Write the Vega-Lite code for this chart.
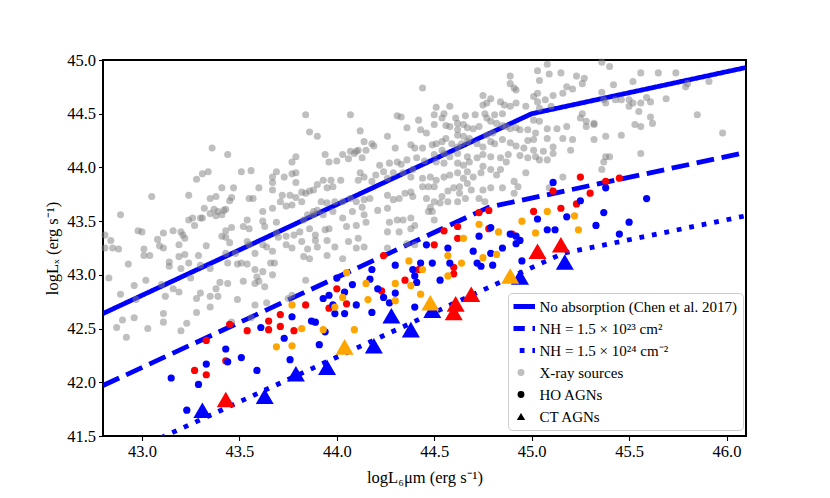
{
 "$schema": "https://vega.github.io/schema/vega-lite/v6.json",
 "width": 643,
 "height": 376,
 "autosize": {"type": "none"},
 "padding": {"left": 103, "top": 60, "right": 84, "bottom": 62},
 "background": "white",
 "config": {
  "view": {"stroke": "black", "strokeWidth": 2},
  "font": "Liberation Serif",
  "axis": {"domain": false, "grid": false, "tickColor": "black", "tickSize": 4.5, "tickWidth": 1.1, "labelFont": "Liberation Serif", "labelFontSize": 16.5, "labelColor": "black", "labelPadding": 3, "labelFlush": false, "titleFont": "Liberation Serif", "titleFontSize": 16.5, "titleFontWeight": "normal", "titleColor": "black"}
 },
 "datasets": {
  "lines": [
   {"model": "No absorption (Chen et al. 2017)", "x": 42.8, "y": 42.64},
   {"model": "No absorption (Chen et al. 2017)", "x": 45.0, "y": 44.5},
   {"model": "No absorption (Chen et al. 2017)", "x": 46.1, "y": 44.93},
   {"model": "NH = 1.5 × 10²³ cm²", "x": 42.8, "y": 41.97},
   {"model": "NH = 1.5 × 10²³ cm²", "x": 44.78, "y": 43.63},
   {"model": "NH = 1.5 × 10²³ cm²", "x": 46.1, "y": 44.14},
   {"model": "NH = 1.5 × 10²⁴ cm⁻²", "x": 42.8, "y": 41.235},
   {"model": "NH = 1.5 × 10²⁴ cm⁻²", "x": 45.16, "y": 43.2},
   {"model": "NH = 1.5 × 10²⁴ cm⁻²", "x": 46.1, "y": 43.55}
  ],
  "xray": [
   {"x":43.84,"y":44.49},{"x":43.86,"y":44.33},{"x":43.90,"y":44.29},{"x":43.36,"y":44.18},{"x":43.44,"y":44.12},{"x":43.79,"y":44.10},{"x":43.77,"y":44.05},{"x":43.34,"y":43.96},{"x":43.31,"y":43.94},{"x":43.28,"y":43.89},{"x":43.51,"y":43.96},{"x":43.56,"y":43.97},{"x":43.69,"y":43.96},{"x":43.67,"y":43.91},{"x":43.67,"y":43.86},{"x":43.73,"y":43.91},{"x":43.77,"y":43.94},{"x":43.79,"y":43.95},{"x":43.79,"y":43.86},{"x":43.05,"y":43.73},{"x":43.24,"y":43.74},{"x":43.41,"y":43.81},{"x":43.47,"y":43.81},{"x":43.60,"y":43.81},{"x":43.67,"y":43.79},{"x":43.38,"y":43.73},{"x":43.35,"y":43.71},{"x":43.46,"y":43.72},{"x":43.55,"y":43.71},{"x":43.57,"y":43.71},{"x":43.72,"y":43.74},{"x":43.76,"y":43.74},{"x":43.79,"y":43.72},{"x":43.82,"y":43.77},{"x":43.84,"y":43.76},{"x":43.86,"y":43.78},{"x":43.88,"y":43.79},{"x":43.90,"y":43.84},{"x":43.71,"y":43.68},{"x":43.74,"y":43.64},{"x":43.77,"y":43.65},{"x":43.82,"y":43.68},{"x":43.32,"y":43.62},{"x":43.37,"y":43.61},{"x":43.39,"y":43.59},{"x":43.42,"y":43.60},{"x":43.43,"y":43.61},{"x":43.45,"y":43.69},{"x":43.62,"y":43.59},{"x":43.67,"y":43.62},{"x":42.89,"y":43.56},{"x":43.24,"y":43.51},{"x":43.26,"y":43.53},{"x":43.27,"y":43.46},{"x":43.30,"y":43.53},{"x":43.31,"y":43.53},{"x":43.35,"y":43.57},{"x":43.38,"y":43.55},{"x":43.41,"y":43.56},{"x":43.54,"y":43.51},{"x":43.52,"y":43.45},{"x":43.55,"y":43.43},{"x":43.62,"y":43.50},{"x":43.63,"y":43.45},{"x":43.69,"y":43.49},{"x":43.83,"y":43.51},{"x":43.85,"y":43.56},{"x":43.88,"y":43.59},{"x":43.90,"y":43.60},{"x":42.98,"y":43.41},{"x":43.00,"y":43.40},{"x":43.11,"y":43.39},{"x":43.16,"y":43.41},{"x":43.20,"y":43.40},{"x":43.21,"y":43.37},{"x":43.22,"y":43.34},{"x":43.43,"y":43.41},{"x":43.46,"y":43.44},{"x":43.41,"y":43.36},{"x":43.43,"y":43.35},{"x":43.69,"y":43.39},{"x":43.70,"y":43.35},{"x":43.74,"y":43.36},{"x":43.78,"y":43.37},{"x":43.81,"y":43.40},{"x":43.86,"y":43.43},{"x":43.89,"y":43.37},{"x":42.84,"y":43.32},{"x":42.81,"y":43.37},{"x":43.08,"y":43.33},{"x":43.09,"y":43.27},{"x":43.11,"y":43.25},{"x":43.19,"y":43.28},{"x":43.33,"y":43.27},{"x":43.45,"y":43.30},{"x":43.54,"y":43.31},{"x":43.55,"y":43.28},{"x":43.62,"y":43.28},{"x":43.64,"y":43.26},{"x":43.74,"y":43.28},{"x":43.77,"y":43.25},{"x":43.82,"y":43.31},{"x":43.85,"y":43.24},{"x":43.90,"y":43.26},{"x":42.85,"y":43.25},{"x":42.88,"y":43.24},{"x":43.01,"y":43.24},{"x":42.81,"y":43.25},{"x":43.67,"y":43.22},{"x":43.58,"y":43.20},{"x":43.22,"y":43.19},
   {"x":43.01,"y":43.18},{"x":43.04,"y":43.18},{"x":43.19,"y":43.17},{"x":43.29,"y":43.18},{"x":43.43,"y":43.20},{"x":43.48,"y":43.20},{"x":43.83,"y":43.17},{"x":43.86,"y":43.15},{"x":43.95,"y":43.18},{"x":44.03,"y":43.15},{"x":42.93,"y":43.10},{"x":43.14,"y":43.12},{"x":43.14,"y":43.08},{"x":43.20,"y":43.06},{"x":43.24,"y":43.11},{"x":43.30,"y":43.09},{"x":43.35,"y":43.06},{"x":43.44,"y":43.11},{"x":43.49,"y":43.10},{"x":43.51,"y":43.11},{"x":43.54,"y":43.10},{"x":43.58,"y":43.05},{"x":43.62,"y":43.03},{"x":43.66,"y":43.11},{"x":43.68,"y":43.11},{"x":43.60,"y":42.94},{"x":43.59,"y":42.98},{"x":43.58,"y":42.92},{"x":43.67,"y":43.00},{"x":42.83,"y":42.97},{"x":43.02,"y":42.95},{"x":42.96,"y":42.90},{"x":43.10,"y":42.91},{"x":43.16,"y":42.87},{"x":43.19,"y":42.84},{"x":43.25,"y":42.97},{"x":43.40,"y":42.93},{"x":43.44,"y":42.92},{"x":43.52,"y":42.94},{"x":43.38,"y":42.87},{"x":43.35,"y":42.80},{"x":43.49,"y":42.77},{"x":43.77,"y":42.81},{"x":43.75,"y":42.78},{"x":43.84,"y":42.95},{"x":43.63,"y":42.89},{"x":42.89,"y":42.82},{"x":42.97,"y":42.77},{"x":43.12,"y":42.80},{"x":43.30,"y":42.83},{"x":43.28,"y":42.78},{"x":43.39,"y":42.80},{"x":43.35,"y":42.70},{"x":43.58,"y":42.72},{"x":43.64,"y":42.74},{"x":42.90,"y":42.58},{"x":42.96,"y":42.60},{"x":43.11,"y":42.64},{"x":43.11,"y":42.56},{"x":43.28,"y":42.65},{"x":43.23,"y":42.55},{"x":43.20,"y":42.48},{"x":43.03,"y":42.50},{"x":42.87,"y":42.51},{"x":42.92,"y":42.42},{"x":43.46,"y":42.56},{"x":43.56,"y":42.60},
   {"x":44.89,"y":44.85},{"x":44.89,"y":44.78},{"x":44.91,"y":44.74},{"x":44.92,"y":44.72},{"x":44.44,"y":44.74},{"x":44.75,"y":44.67},{"x":44.79,"y":44.64},{"x":44.77,"y":44.60},{"x":44.75,"y":44.58},{"x":44.84,"y":44.61},{"x":44.86,"y":44.58},{"x":44.89,"y":44.57},{"x":44.92,"y":44.60},{"x":44.97,"y":44.57},{"x":44.51,"y":44.56},{"x":44.58,"y":44.57},{"x":44.55,"y":44.50},{"x":44.54,"y":44.46},{"x":44.50,"y":44.49},{"x":44.07,"y":44.49},{"x":44.31,"y":44.48},{"x":44.33,"y":44.47},{"x":44.42,"y":44.44},{"x":44.61,"y":44.46},{"x":44.66,"y":44.48},{"x":44.71,"y":44.49},{"x":44.76,"y":44.50},{"x":44.81,"y":44.49},{"x":44.85,"y":44.50},{"x":44.56,"y":44.39},{"x":44.58,"y":44.38},{"x":44.62,"y":44.41},{"x":44.65,"y":44.40},{"x":44.67,"y":44.37},{"x":44.70,"y":44.36},{"x":44.73,"y":44.38},{"x":44.77,"y":44.46},{"x":44.79,"y":44.43},{"x":44.82,"y":44.41},{"x":44.85,"y":44.39},{"x":44.87,"y":44.38},{"x":44.89,"y":44.36},{"x":44.92,"y":44.37},{"x":44.94,"y":44.35},{"x":44.12,"y":44.34},{"x":44.26,"y":44.29},{"x":44.36,"y":44.37},{"x":44.43,"y":44.35},{"x":44.46,"y":44.32},{"x":44.50,"y":44.40},{"x":44.14,"y":44.24},{"x":44.18,"y":44.22},{"x":44.19,"y":44.20},{"x":44.15,"y":44.16},{"x":44.11,"y":44.16},{"x":44.09,"y":44.13},{"x":44.30,"y":44.18},{"x":44.38,"y":44.21},{"x":44.40,"y":44.18},{"x":44.44,"y":44.18},{"x":44.49,"y":44.21},{"x":44.51,"y":44.22},{"x":44.54,"y":44.24},{"x":44.56,"y":44.27},{"x":44.59,"y":44.22},{"x":44.62,"y":44.19},{"x":44.64,"y":44.22},{"x":44.67,"y":44.24},{"x":44.68,"y":44.27},{"x":44.72,"y":44.22},{"x":44.75,"y":44.19},{"x":44.79,"y":44.24},{"x":44.81,"y":44.22},{"x":44.85,"y":44.26},{"x":44.89,"y":44.23},{"x":44.92,"y":44.20},{"x":44.96,"y":44.18},{"x":44.98,"y":44.25},{"x":43.94,"y":44.12},{"x":43.96,"y":44.05},{"x":44.00,"y":44.06},{"x":44.03,"y":44.12},{"x":44.07,"y":44.15},{"x":44.10,"y":44.15},{"x":44.06,"y":44.08},{"x":44.22,"y":44.02},{"x":44.27,"y":44.04},{"x":44.31,"y":44.05},{"x":44.33,"y":44.03},{"x":44.36,"y":44.07},{"x":44.41,"y":44.09},{"x":44.45,"y":44.06},{"x":44.50,"y":44.12},{"x":44.55,"y":44.13},{"x":44.58,"y":44.10},{"x":44.62,"y":44.04},{"x":44.65,"y":44.02},{"x":44.68,"y":44.05},{"x":44.72,"y":44.09},{"x":44.75,"y":44.12},{"x":44.79,"y":44.10},{"x":44.84,"y":44.09},{"x":44.88,"y":44.12},{"x":44.94,"y":44.11},{"x":44.87,"y":44.05},{"x":43.93,"y":43.88},{"x":43.97,"y":43.88},{"x":43.98,"y":43.82},{"x":43.95,"y":43.81},{"x":44.02,"y":43.88},{"x":44.12,"y":43.95},{"x":44.11,"y":43.88},{"x":44.14,"y":43.91},{"x":44.18,"y":43.87},{"x":44.20,"y":43.93},{"x":44.24,"y":43.96},{"x":44.26,"y":43.90},{"x":44.29,"y":43.95},{"x":44.34,"y":43.95},{"x":44.39,"y":43.98},{"x":44.44,"y":43.90},{"x":44.48,"y":43.91},{"x":44.51,"y":43.88},{"x":44.55,"y":43.91},{"x":44.58,"y":43.93},{"x":44.62,"y":43.95},{"x":44.65,"y":43.90},{"x":44.67,"y":43.85},{"x":44.70,"y":43.91},{"x":44.74,"y":43.95},{"x":44.79,"y":43.98},{"x":44.82,"y":43.93},{"x":44.75,"y":44.01},{"x":44.91,"y":43.87},{"x":44.93,"y":43.82},{"x":44.85,"y":43.81},{"x":44.91,"y":43.76},{"x":43.92,"y":43.68},{"x":43.95,"y":43.67},{"x":43.99,"y":43.68},{"x":44.03,"y":43.68},{"x":44.07,"y":43.71},{"x":44.10,"y":43.68},{"x":44.13,"y":43.63},{"x":44.17,"y":43.71},{"x":44.21,"y":43.60},{"x":44.29,"y":43.70},{"x":44.35,"y":43.76},{"x":44.38,"y":43.77},{"x":44.39,"y":43.73},{"x":44.46,"y":43.71},{"x":44.50,"y":43.68},{"x":44.48,"y":43.63},{"x":44.54,"y":43.73},{"x":44.57,"y":43.78},{"x":44.60,"y":43.81},{"x":44.63,"y":43.76},{"x":44.66,"y":43.71},{"x":44.57,"y":43.68},{"x":44.62,"y":43.68},{"x":43.88,"y":43.56},{"x":43.93,"y":43.56},{"x":43.98,"y":43.59},{"x":44.03,"y":43.53},{"x":44.08,"y":43.59},{"x":44.14,"y":43.56},{"x":44.15,"y":43.49},{"x":44.10,"y":43.46},{"x":44.05,"y":43.45},{"x":43.96,"y":43.43},{"x":43.94,"y":43.42},{"x":44.26,"y":43.62},{"x":44.27,"y":43.49},{"x":44.31,"y":43.51},{"x":44.34,"y":43.51},{"x":44.38,"y":43.53},{"x":44.40,"y":43.46},{"x":44.38,"y":43.43},{"x":44.32,"y":43.40},{"x":44.26,"y":43.40},{"x":44.47,"y":43.59},{"x":44.49,"y":43.59},{"x":44.50,"y":43.51},{"x":43.89,"y":43.32},{"x":43.95,"y":43.32},{"x":43.99,"y":43.26},{"x":44.06,"y":43.31},{"x":44.11,"y":43.34},{"x":44.10,"y":43.25},{"x":44.14,"y":43.26},{"x":44.26,"y":43.25},{"x":44.40,"y":43.28},{"x":44.36,"y":43.29},{"x":44.73,"y":43.71},{"x":44.76,"y":43.68},
   {"x":44.62,"y":44.35},{"x":44.98,"y":44.35},{"x":45.01,"y":44.26},{"x":44.62,"y":44.30},{"x":44.65,"y":44.29},{"x":44.77,"y":44.30},{"x":44.80,"y":44.32},{"x":45.01,"y":44.16},{"x":44.54,"y":44.16},{"x":44.13,"y":44.09},{"x":44.62,"y":44.13},{"x":44.67,"y":44.10},{"x":44.98,"y":44.09},{"x":44.51,"y":44.05},{"x":44.55,"y":44.04},{"x":44.38,"y":43.91},{"x":44.67,"y":43.96},{"x":44.84,"y":43.98},{"x":44.97,"y":43.95},{"x":44.14,"y":43.70},{"x":44.26,"y":43.74},{"x":44.32,"y":43.71},{"x":44.44,"y":43.82},{"x":44.47,"y":43.82},{"x":44.50,"y":43.82},{"x":44.63,"y":43.82},{"x":44.69,"y":43.79},{"x":44.75,"y":43.79},{"x":44.79,"y":43.81},{"x":44.53,"y":43.67},
   {"x":45.08,"y":44.96},{"x":45.36,"y":44.98},{"x":45.40,"y":44.94},{"x":45.03,"y":44.90},{"x":45.09,"y":44.87},{"x":45.15,"y":44.88},{"x":45.23,"y":44.85},{"x":45.27,"y":44.83},{"x":45.26,"y":44.78},{"x":45.42,"y":44.77},{"x":45.36,"y":44.70},{"x":45.52,"y":44.80},{"x":45.56,"y":44.88},{"x":45.65,"y":44.88},{"x":45.74,"y":44.88},{"x":45.80,"y":44.78},{"x":45.79,"y":44.75},{"x":45.91,"y":44.80},{"x":45.18,"y":44.75},{"x":45.21,"y":44.73},{"x":45.16,"y":44.69},{"x":45.11,"y":44.67},{"x":45.07,"y":44.63},{"x":45.10,"y":44.57},{"x":45.03,"y":44.69},{"x":45.04,"y":44.81},{"x":45.01,"y":44.66},{"x":45.03,"y":44.61},{"x":45.04,"y":44.55},{"x":45.37,"y":44.63},{"x":45.38,"y":44.60},{"x":45.43,"y":44.63},{"x":45.46,"y":44.63},{"x":45.50,"y":44.63},{"x":45.52,"y":44.60},{"x":45.56,"y":44.60},{"x":45.59,"y":44.65},{"x":45.61,"y":44.61},{"x":45.69,"y":44.64},{"x":45.50,"y":44.57},{"x":45.55,"y":44.52},{"x":45.61,"y":44.47},{"x":45.62,"y":44.41},{"x":45.53,"y":44.40},{"x":45.56,"y":44.38},{"x":45.46,"y":44.30},{"x":45.38,"y":44.29},{"x":45.32,"y":44.26},{"x":45.28,"y":44.38},{"x":45.26,"y":44.50},{"x":45.25,"y":44.46},{"x":45.28,"y":44.43},{"x":45.32,"y":44.40},{"x":45.32,"y":44.41},{"x":45.18,"y":44.38},{"x":45.13,"y":44.36},{"x":45.08,"y":44.36},{"x":45.04,"y":44.43},{"x":45.01,"y":44.44},{"x":45.02,"y":44.32},{"x":45.08,"y":44.27},{"x":45.11,"y":44.19},{"x":45.16,"y":44.27},{"x":45.21,"y":44.26},{"x":45.20,"y":44.16},{"x":45.11,"y":44.13},{"x":45.06,"y":44.15},{"x":45.08,"y":44.07},{"x":45.04,"y":44.07},{"x":45.02,"y":44.10},{"x":45.38,"y":44.10},{"x":45.37,"y":44.05},{"x":45.36,"y":43.98},{"x":45.40,"y":44.10},{"x":45.56,"y":44.13},{"x":45.85,"y":44.49},{"x":45.98,"y":44.32},{"x":45.16,"y":43.91},{"x":45.09,"y":43.81}
  ],
  "ho": [
   {"x":43.27,"y":42.11,"cls":"B"},{"x":43.33,"y":42.07,"cls":"B"},{"x":43.33,"y":42.39,"cls":"B"},{"x":43.45,"y":42.54,"cls":"B"},{"x":43.43,"y":42.20,"cls":"B"},{"x":43.54,"y":42.48,"cls":"B"},{"x":43.65,"y":42.57,"cls":"B"},{"x":43.65,"y":42.49,"cls":"B"},{"x":43.71,"y":42.63,"cls":"B"},{"x":43.71,"y":42.52,"cls":"B"},{"x":43.78,"y":42.48,"cls":"B"},{"x":43.84,"y":42.72,"cls":"B"},{"x":44.00,"y":42.87,"cls":"B"},{"x":43.96,"y":42.69,"cls":"B"},{"x":44.05,"y":42.73,"cls":"B"},{"x":45.11,"y":43.78,"cls":"B"},{"x":45.23,"y":43.66,"cls":"B"},{"x":44.73,"y":43.58,"cls":"B"},{"x":44.78,"y":43.60,"cls":"B"},{"x":45.01,"y":43.59,"cls":"B"},{"x":45.15,"y":43.62,"cls":"B"},{"x":44.55,"y":43.41,"cls":"B"},{"x":44.62,"y":43.45,"cls":"B"},{"x":44.78,"y":43.43,"cls":"B"},{"x":44.90,"y":43.38,"cls":"B"},{"x":44.62,"y":43.34,"cls":"B"},{"x":44.50,"y":43.28,"cls":"B"},{"x":44.24,"y":43.18,"cls":"B"},{"x":44.42,"y":43.05,"cls":"B"},{"x":44.60,"y":43.07,"cls":"B"},{"x":44.60,"y":43.01,"cls":"B"},{"x":44.23,"y":42.85,"cls":"B"},{"x":44.35,"y":42.95,"cls":"B"},{"x":45.25,"y":43.91,"cls":"B"},{"x":45.38,"y":43.87,"cls":"B"},{"x":45.45,"y":43.90,"cls":"B"},{"x":45.30,"y":43.76,"cls":"B"},
   {"x":43.15,"y":42.04,"cls":"A"},{"x":43.29,"y":41.98,"cls":"A"},{"x":43.33,"y":42.17,"cls":"A"},{"x":43.43,"y":42.31,"cls":"A"},{"x":43.44,"y":42.19,"cls":"A"},{"x":43.51,"y":42.23,"cls":"A"},{"x":43.59,"y":42.11,"cls":"A"},{"x":43.61,"y":42.51,"cls":"A"},{"x":43.73,"y":42.41,"cls":"A"},{"x":43.76,"y":42.21,"cls":"A"},{"x":43.77,"y":42.61,"cls":"A"},{"x":43.87,"y":42.57,"cls":"A"},{"x":43.89,"y":42.56,"cls":"A"},{"x":43.91,"y":42.35,"cls":"A"},{"x":43.94,"y":42.47,"cls":"A"},{"x":43.93,"y":42.78,"cls":"A"},{"x":43.96,"y":42.81,"cls":"A"},{"x":44.04,"y":42.84,"cls":"A"},{"x":43.99,"y":42.64,"cls":"A"},{"x":44.04,"y":42.64,"cls":"A"},{"x":44.08,"y":42.91,"cls":"A"},{"x":43.23,"y":41.74,"cls":"A"},{"x":45.11,"y":43.86,"cls":"A"},{"x":45.03,"y":43.52,"cls":"A"},{"x":45.18,"y":43.54,"cls":"A"},{"x":44.79,"y":43.44,"cls":"A"},{"x":44.89,"y":43.38,"cls":"A"},{"x":44.94,"y":43.32,"cls":"A"},{"x":45.08,"y":43.42,"cls":"A"},{"x":45.12,"y":43.42,"cls":"A"},{"x":45.33,"y":43.46,"cls":"A"},{"x":44.73,"y":43.36,"cls":"A"},{"x":44.46,"y":43.28,"cls":"A"},{"x":44.57,"y":43.25,"cls":"A"},{"x":44.43,"y":43.11,"cls":"A"},{"x":44.70,"y":43.22,"cls":"A"},{"x":44.79,"y":43.20,"cls":"A"},{"x":44.85,"y":43.25,"cls":"A"},{"x":44.95,"y":43.13,"cls":"A"},{"x":44.30,"y":43.09,"cls":"A"},{"x":44.39,"y":43.05,"cls":"A"},{"x":44.49,"y":43.11,"cls":"A"},{"x":44.58,"y":43.11,"cls":"A"},{"x":44.72,"y":43.11,"cls":"A"},{"x":44.74,"y":43.08,"cls":"A"},{"x":44.80,"y":43.09,"cls":"A"},{"x":44.18,"y":43.05,"cls":"A"},{"x":44.00,"y":42.97,"cls":"A"},{"x":44.17,"y":42.96,"cls":"A"},{"x":44.40,"y":42.99,"cls":"A"},{"x":44.41,"y":42.93,"cls":"A"},{"x":44.53,"y":42.95,"cls":"A"},{"x":44.21,"y":42.87,"cls":"A"},{"x":44.30,"y":42.83,"cls":"A"},{"x":44.24,"y":42.79,"cls":"A"},{"x":44.10,"y":42.72,"cls":"A"},{"x":43.98,"y":42.72,"cls":"A"},{"x":44.18,"y":42.65,"cls":"A"},{"x":44.40,"y":42.70,"cls":"A"},{"x":44.27,"y":42.74,"cls":"A"},{"x":45.38,"y":43.81,"cls":"A"},{"x":45.25,"y":43.69,"cls":"A"},{"x":45.59,"y":43.71,"cls":"A"},{"x":45.37,"y":43.58,"cls":"A"},{"x":45.50,"y":43.49,"cls":"A"},{"x":45.45,"y":43.38,"cls":"A"},{"x":44.92,"y":43.29,"cls":"A"},{"x":44.92,"y":43.36,"cls":"A"},
   {"x":43.77,"y":42.34,"cls":"C"},{"x":43.77,"y":42.72,"cls":"C"},{"x":43.82,"y":42.50,"cls":"C"},{"x":43.93,"y":42.49,"cls":"C"},{"x":44.05,"y":43.02,"cls":"C"},{"x":43.99,"y":42.70,"cls":"C"},{"x":43.69,"y":42.33,"cls":"C"},{"x":45.08,"y":43.59,"cls":"C"},{"x":44.95,"y":43.50,"cls":"C"},{"x":45.22,"y":43.55,"cls":"C"},{"x":44.73,"y":43.47,"cls":"C"},{"x":44.83,"y":43.40,"cls":"C"},{"x":45.02,"y":43.39,"cls":"C"},{"x":45.24,"y":43.42,"cls":"C"},{"x":44.65,"y":43.34,"cls":"C"},{"x":44.57,"y":43.18,"cls":"C"},{"x":44.37,"y":43.13,"cls":"C"},{"x":44.75,"y":43.16,"cls":"C"},{"x":44.82,"y":43.19,"cls":"C"},{"x":44.44,"y":43.05,"cls":"C"},{"x":44.64,"y":43.11,"cls":"C"},{"x":44.15,"y":42.92,"cls":"C"},{"x":44.38,"y":42.90,"cls":"C"},{"x":44.57,"y":42.99,"cls":"C"},{"x":44.30,"y":42.92,"cls":"C"},{"x":44.43,"y":42.82,"cls":"C"},{"x":44.16,"y":42.77,"cls":"C"},{"x":44.03,"y":42.79,"cls":"C"},{"x":44.09,"y":42.49,"cls":"C"},{"x":44.30,"y":42.76,"cls":"C"}
  ],
  "ct": [
   {"x":43.31,"y":41.74,"cls":"A"},{"x":43.63,"y":41.87,"cls":"A"},{"x":43.79,"y":42.08,"cls":"A"},{"x":43.95,"y":42.14,"cls":"A"},{"x":44.19,"y":42.34,"cls":"A"},{"x":44.28,"y":42.62,"cls":"A"},{"x":44.38,"y":42.49,"cls":"A"},{"x":44.49,"y":42.67,"cls":"A"},{"x":44.94,"y":42.98,"cls":"A"},{"x":45.17,"y":43.12,"cls":"A"},
   {"x":44.04,"y":42.33,"cls":"C"},{"x":44.48,"y":42.74,"cls":"C"},{"x":44.89,"y":42.99,"cls":"C"},
   {"x":43.43,"y":41.84,"cls":"B"},{"x":44.60,"y":42.65,"cls":"B"},{"x":44.61,"y":42.73,"cls":"B"},{"x":44.69,"y":42.82,"cls":"B"},{"x":45.03,"y":43.22,"cls":"B"},{"x":45.15,"y":43.28,"cls":"B"}
  ]
 },
 "layer": [
  {
   "data": {"name": "lines"},
   "mark": {"type": "line", "clip": true, "strokeWidth": 4.8},
   "encoding": {
    "x": {"field": "x", "type": "quantitative", "scale": {"domain": [42.8, 46.1], "nice": false, "zero": false}, "axis": {"values": [43, 43.5, 44, 44.5, 45, 45.5, 46], "format": ".1f", "title": "logL₆μm (erg s⁻¹)", "titlePadding": 9}},
    "y": {"field": "y", "type": "quantitative", "scale": {"domain": [41.5, 45], "nice": false, "zero": false}, "axis": {"values": [41.5, 42, 42.5, 43, 43.5, 44, 44.5, 45], "format": ".1f", "title": "logLₓ (erg s⁻¹)", "titlePadding": 6}},
    "color": {
     "field": "model", "type": "nominal",
     "scale": {"domain": ["No absorption (Chen et al. 2017)", "NH = 1.5 × 10²³ cm²", "NH = 1.5 × 10²⁴ cm⁻²", "X-ray sources", "HO AGNs", "CT AGNs"], "range": ["#0000ff", "#0000ff", "#0000ff", "#808080", "#000000", "#000000"]},
     "legend": {
      "title": null, "orient": "none", "legendX": 405, "legendY": 233,
      "padding": 5.5, "fillColor": "rgba(255,255,255,0.85)", "strokeColor": "#cccccc", "cornerRadius": 4,
      "labelFont": "Liberation Serif", "labelFontSize": 15, "labelColor": "black", "labelLimit": 400,
      "symbolSize": 784, "rowPadding": 6, "clipHeight": 16, "labelOffset": 11,
      "encode": {"symbols": {"update": {
       "shape": {"signal": "datum.value=='CT AGNs' ? 'triangle-up' : (datum.value=='X-ray sources' || datum.value=='HO AGNs') ? 'circle' : 'stroke'"},
       "size": {"signal": "datum.value=='CT AGNs' ? 70 : (datum.value=='X-ray sources' || datum.value=='HO AGNs') ? 48 : 784"},
       "fill": {"signal": "datum.value=='X-ray sources' ? '#808080' : (datum.value=='HO AGNs' || datum.value=='CT AGNs') ? '#000000' : 'transparent'"},
       "fillOpacity": {"signal": "datum.value=='X-ray sources' ? 0.5 : 1"},
       "opacity": {"value": 1},
       "stroke": {"signal": "(datum.value=='X-ray sources' || datum.value=='HO AGNs' || datum.value=='CT AGNs') ? 'transparent' : '#0000ff'"},
       "strokeWidth": {"signal": "(datum.value=='X-ray sources' || datum.value=='HO AGNs' || datum.value=='CT AGNs') ? 0 : 4.8"},
       "strokeDash": {"signal": "indexof(datum.value, '²³') >= 0 ? [17.8, 7.7] : indexof(datum.value, '²⁴') >= 0 ? [4.8, 7.9] : [1, 0]"}
      }}}
     }
    },
    "strokeDash": {"field": "model", "type": "nominal", "scale": {"domain": ["No absorption (Chen et al. 2017)", "NH = 1.5 × 10²³ cm²", "NH = 1.5 × 10²⁴ cm⁻²"], "range": [[1, 0], [17.8, 7.7], [4.8, 7.9]]}, "legend": null}
   }
  },
  {
   "data": {"name": "xray"},
   "mark": {"type": "point", "filled": true, "shape": "circle", "size": 50, "color": "#808080", "opacity": 0.5, "strokeWidth": 0},
   "encoding": {"x": {"field": "x", "type": "quantitative"}, "y": {"field": "y", "type": "quantitative"}}
  },
  {
   "data": {"name": "ho"},
   "mark": {"type": "point", "filled": true, "shape": "circle", "size": 52, "opacity": 1, "strokeWidth": 0},
   "encoding": {"x": {"field": "x", "type": "quantitative"}, "y": {"field": "y", "type": "quantitative"},
    "fill": {"field": "cls", "type": "nominal", "scale": {"domain": ["A", "B", "C"], "range": ["#0000ff", "#ff0000", "#ffa500"]}, "legend": null}}
  },
  {
   "data": {"name": "ct"},
   "mark": {"type": "point", "filled": true, "shape": "triangle-up", "size": 324, "opacity": 1, "strokeWidth": 0},
   "encoding": {"x": {"field": "x", "type": "quantitative"}, "y": {"field": "y", "type": "quantitative"},
    "fill": {"field": "cls", "type": "nominal", "legend": null}}
  }
 ]
}
